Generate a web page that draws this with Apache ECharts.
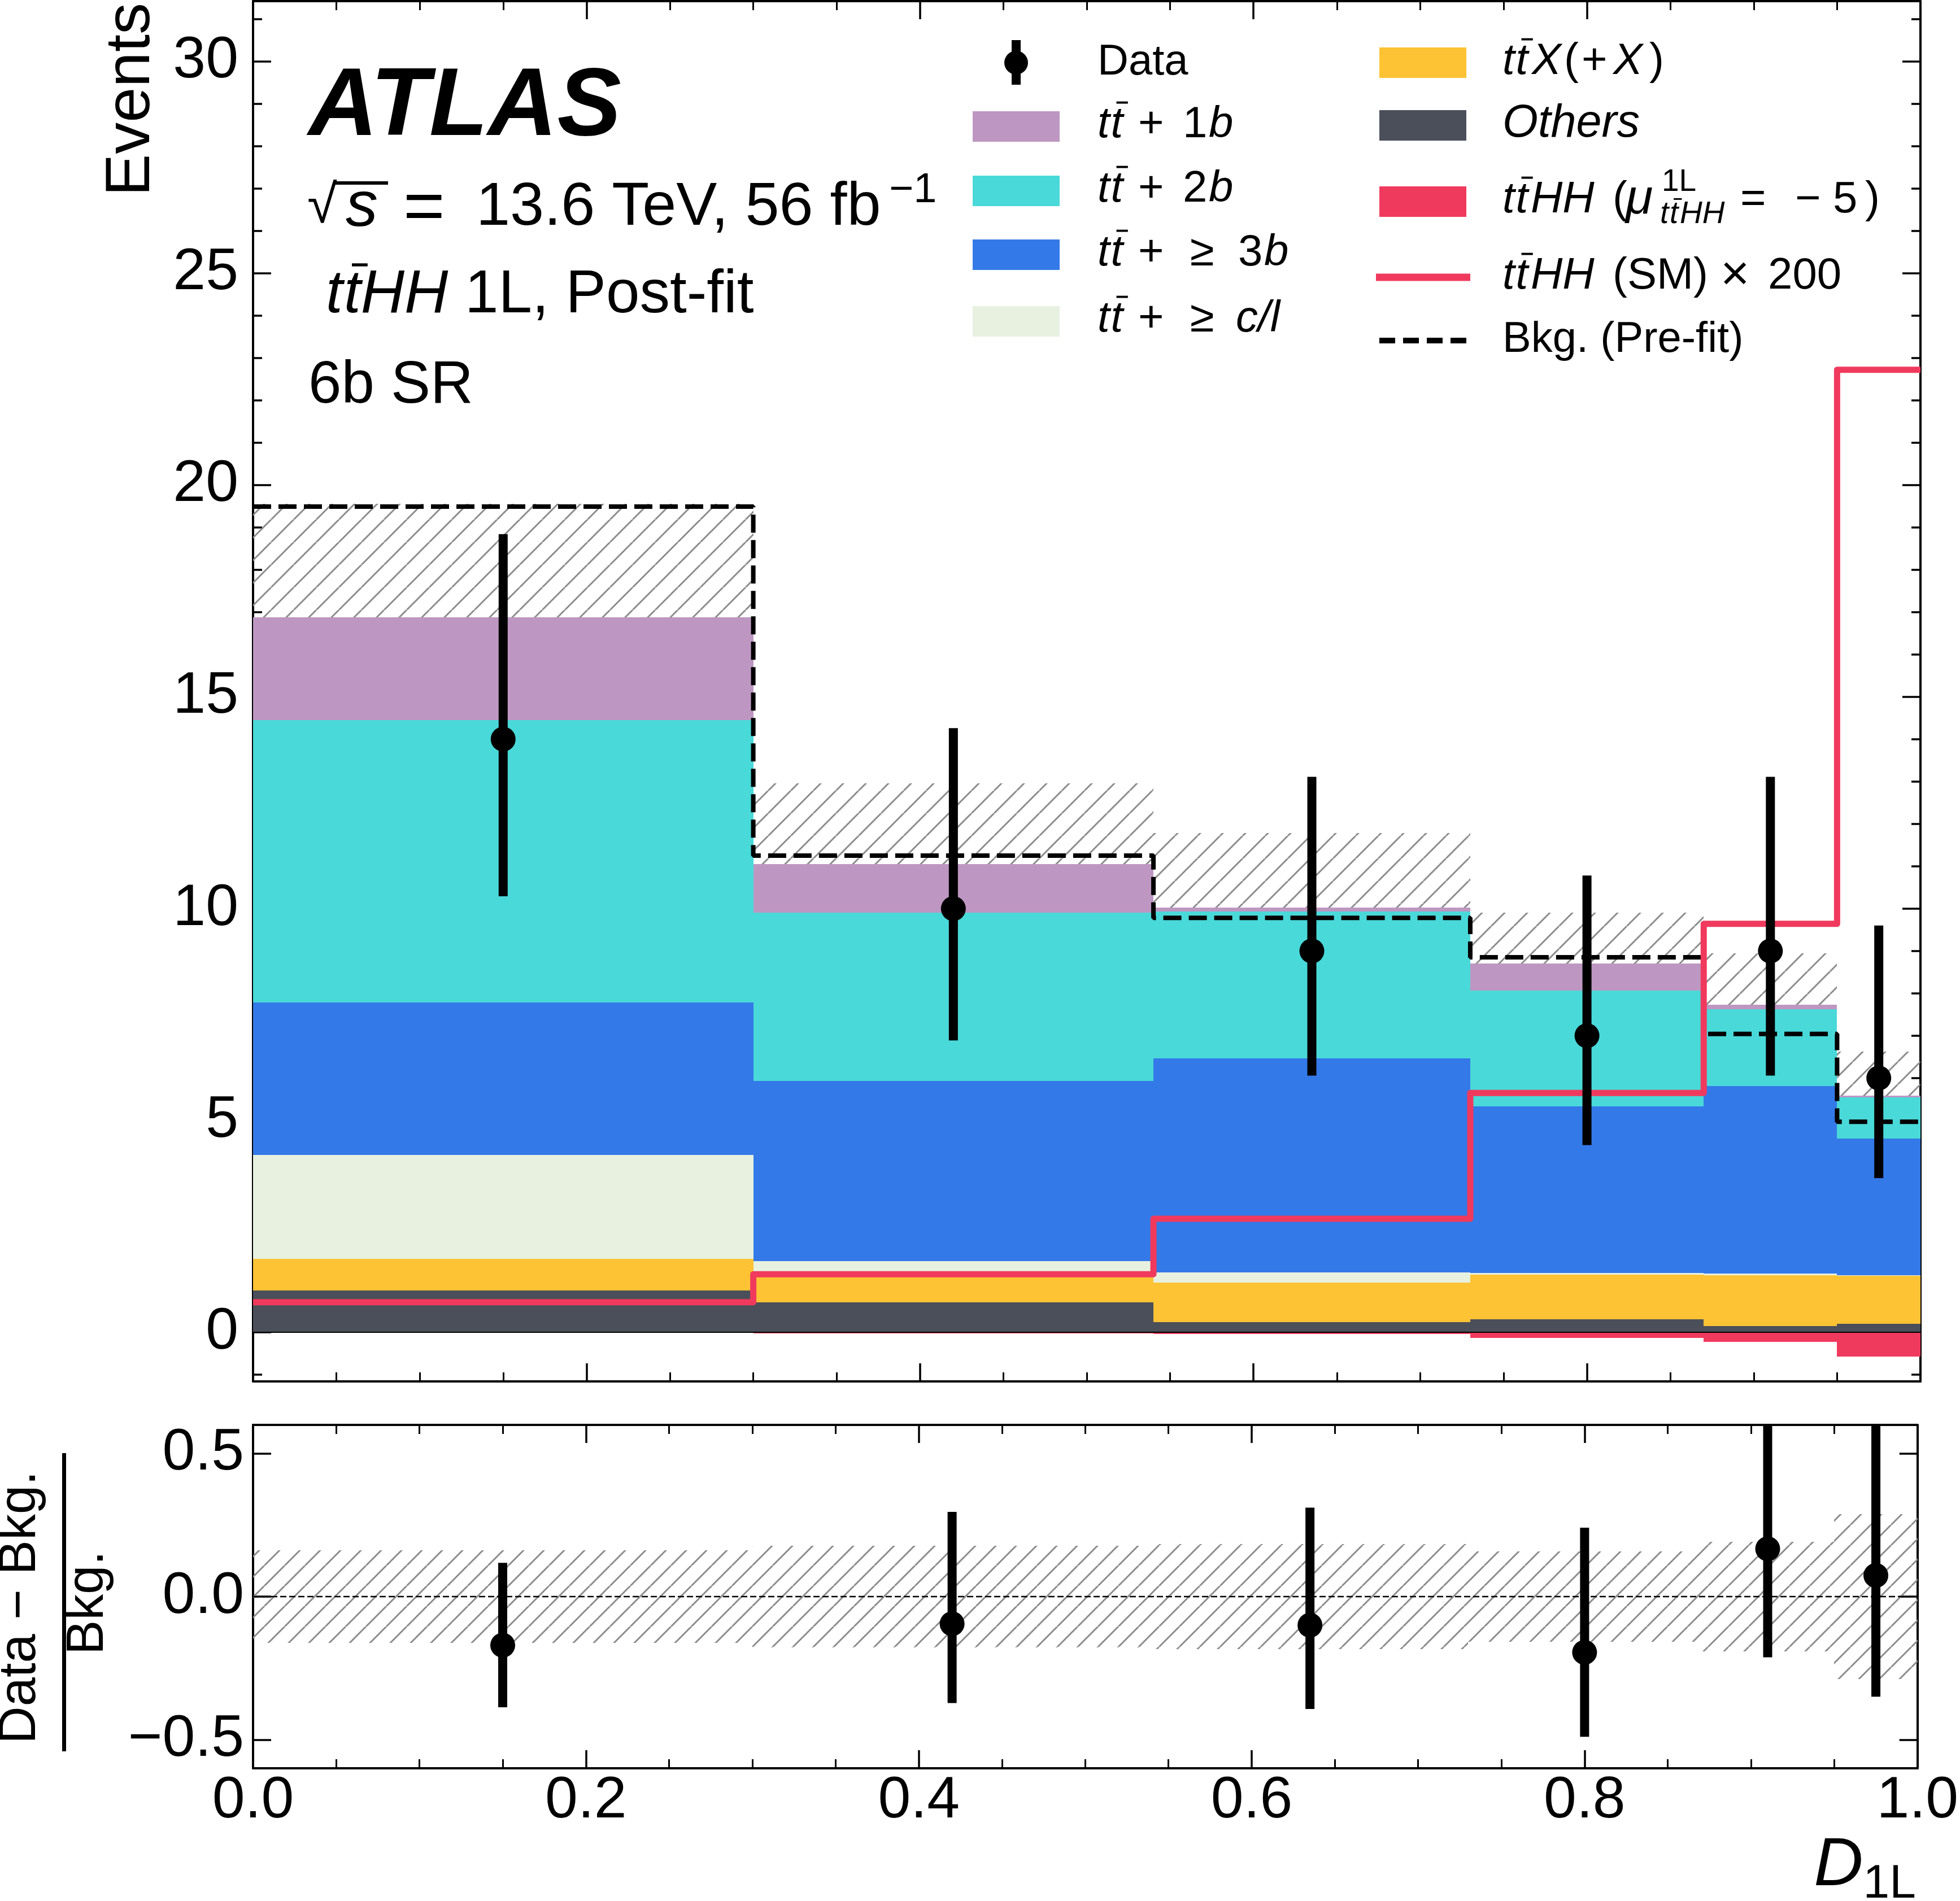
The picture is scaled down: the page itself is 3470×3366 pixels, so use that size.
<!DOCTYPE html>
<html>
<head>
<meta charset="utf-8">
<script src="https://cdn.jsdelivr.net/npm/echarts@6.0.0/dist/echarts.min.js"></script>
<style>
html, body { margin: 0; padding: 0; background: #fff; }
#chart { width: 3470px; height: 3366px; }
</style>
</head>
<body>
<div id="chart"></div>
<script>
// bin edges of D_1L
var binEdges = [0, 0.3, 0.54, 0.73, 0.87, 0.95, 1.0];

// post-fit yields per bin, stack order bottom -> top
var others = [0.98, 0.70, 0.24, 0.31, 0.14, 0.20];
var ttX    = [0.75, 0.60, 0.93, 1.05, 1.21, 1.13];
var ttCL   = [2.45, 0.38, 0.24, 0.04, 0.04, 0.01];
var tt3b   = [3.61, 4.25, 5.05, 3.93, 4.42, 3.23];
var tt2b   = [6.66, 3.98, 3.47, 2.74, 1.81, 0.97];
var tt1b   = [2.42, 1.14, 0.10, 0.63, 0.11, 0.05];
var ttHHfit = [-0.01, -0.03, -0.04, -0.13, -0.23, -0.57];   // mu = -5
var bkgErr  = [2.68, 1.91, 1.76, 1.21, 1.22, 1.03];
var preFit  = [19.49, 11.25, 9.78, 8.85, 7.04, 4.97];
var ttHHsm200 = [0.71, 1.37, 2.68, 5.65, 9.64, 22.72];

// data
var dataX  = [0.15, 0.42, 0.635, 0.8, 0.91, 0.975];
var dataY  = [14, 10, 9, 7, 9, 6];
var dataLo = [10.29, 6.89, 6.06, 4.42, 6.06, 3.64];
var dataHi = [18.84, 14.26, 13.11, 10.78, 13.11, 9.60];

// ratio panel
var ratioY   = [-0.170, -0.095, -0.100, -0.195, 0.167, 0.074];
var ratioLo  = [-0.387, -0.372, -0.393, -0.490, -0.212, -0.350];
var ratioHi  = [0.118, 0.296, 0.311, 0.241, 0.70, 0.72];
var ratioErr = [0.161, 0.178, 0.184, 0.157, 0.192, 0.288];

var FONT = '"Liberation Sans", Arial, sans-serif';
var FNAME = 'Liberation Sans';

var chart = echarts.init(document.getElementById('chart'));

// hatch tile
function hatch(step, lw, color) {
	var c = document.createElement('canvas');
	c.width = step; c.height = step;
	var g = c.getContext('2d');
	g.strokeStyle = color;
	g.lineWidth = lw;
	g.beginPath();
	for (var k = -1; k <= 1; k++) {
		g.moveTo(k * step, step);
		g.lineTo(k * step + step, 0);
	}
	g.stroke();
	return c;
}
var hatchMain = hatch(40, 3, '#8c8c8c');
var hatchRatio = hatch(36, 3, '#8c8c8c');

// stack
var stackDefs = [
	{ vals: others, color: '#4b4f5a' },
	{ vals: ttX, color: '#fdc334' },
	{ vals: ttCL, color: '#e8f1e0' },
	{ vals: tt3b, color: '#3479e8' },
	{ vals: tt2b, color: '#4ad9d9' },
	{ vals: tt1b, color: '#bd97c1' }
];
var base = [0, 0, 0, 0, 0, 0];
stackDefs.forEach(function(def) {
	def.data = def.vals.map(function(v, i) {
		var lo = base[i];
		base[i] += v;
		return [binEdges[i], binEdges[i + 1], lo, base[i]];
	});
});
var total = base.slice();

function rectItem(fill) {
	return function(params, api) {
		var a = api.coord([api.value(0), api.value(3)]);
		var b = api.coord([api.value(1), api.value(2)]);
		var x0 = Math.round(a[0]), x1 = Math.round(b[0]);
		var y0 = Math.round(a[1]), y1 = Math.round(b[1]);
		return {
			type: 'rect',
			shape: { x: x0, y: y0, width: x1 - x0, height: y1 - y0 },
			style: { fill: fill }
		};
	};
}

function errItem(lw) {
	return function(params, api) {
		var t = api.coord([api.value(0), api.value(2)]);
		var b = api.coord([api.value(0), api.value(1)]);
		var cs = params.coordSys;
		return {
			type: 'line',
			shape: { x1: t[0], y1: Math.max(t[1], cs.y), x2: t[0], y2: Math.min(b[1], cs.y + cs.height) },
			style: { stroke: '#000', lineWidth: lw }
		};
	};
}

function stepData(vals) {
	var out = [];
	vals.forEach(function(v, i) {
		out.push([binEdges[i], v]);
		out.push([binEdges[i + 1], v]);
	});
	return out;
}

var series = [];
// uncertainty band (main)
series.push({
	type: 'custom', xAxisIndex: 0, yAxisIndex: 0, z: 1,
	renderItem: rectItem({ image: hatchMain, repeat: 'repeat' }),
	encode: { x: [0, 1], y: [2, 3] },
	data: total.map(function(t, i) { return [binEdges[i], binEdges[i + 1], t - bkgErr[i], t + bkgErr[i]]; })
});
stackDefs.forEach(function(def) {
	series.push({
		type: 'custom', xAxisIndex: 0, yAxisIndex: 0, z: 2,
		renderItem: rectItem(def.color),
		encode: { x: [0, 1], y: [2, 3] },
		data: def.data
	});
});
// ttHH post-fit (negative)
series.push({
	type: 'custom', xAxisIndex: 0, yAxisIndex: 0, z: 3,
	renderItem: rectItem('#f03a5d'),
	encode: { x: [0, 1], y: [2, 3] },
	data: ttHHfit.map(function(v, i) { return [binEdges[i], binEdges[i + 1], v, 0]; })
});
series.push({
	type: 'line', xAxisIndex: 0, yAxisIndex: 0, z: 4, symbol: 'none',
	lineStyle: { color: '#000', width: 2 },
	data: [[0, 0], [1, 0]]
});
series.push({
	type: 'line', xAxisIndex: 0, yAxisIndex: 0, z: 5, symbol: 'none',
	lineStyle: { color: '#000', width: 8, type: [32, 13] },
	data: stepData(preFit)
});
series.push({
	type: 'line', xAxisIndex: 0, yAxisIndex: 0, z: 6, symbol: 'none',
	lineStyle: { color: '#f03a5d', width: 11, join: 'round' },
	data: stepData(ttHHsm200)
});
series.push({
	type: 'custom', xAxisIndex: 0, yAxisIndex: 0, z: 8,
	renderItem: errItem(16),
	encode: { x: 0, y: [1, 2] },
	data: dataX.map(function(x, i) { return [x, dataLo[i], dataHi[i]]; })
});
series.push({
	type: 'scatter', xAxisIndex: 0, yAxisIndex: 0, z: 9,
	symbol: 'circle', symbolSize: 44, itemStyle: { color: '#000', opacity: 1 },
	data: dataX.map(function(x, i) { return [x, dataY[i]]; })
});

// ratio panel
series.push({
	type: 'custom', xAxisIndex: 2, yAxisIndex: 4, z: 1,
	renderItem: rectItem({ image: hatchRatio, repeat: 'repeat' }),
	encode: { x: [0, 1], y: [2, 3] },
	data: ratioErr.map(function(e, i) { return [binEdges[i], binEdges[i + 1], -e, e]; })
});
series.push({
	type: 'line', xAxisIndex: 2, yAxisIndex: 4, z: 4, symbol: 'none',
	lineStyle: { color: '#000', width: 2.5, type: [11, 5] },
	data: [[0, 0], [1, 0]]
});
series.push({
	type: 'custom', xAxisIndex: 2, yAxisIndex: 4, z: 8,
	renderItem: errItem(16),
	encode: { x: 0, y: [1, 2] },
	data: dataX.map(function(x, i) { return [x, ratioLo[i], ratioHi[i]]; })
});
series.push({
	type: 'scatter', xAxisIndex: 2, yAxisIndex: 4, z: 9,
	symbol: 'circle', symbolSize: 44, itemStyle: { color: '#000', opacity: 1 },
	data: dataX.map(function(x, i) { return [x, ratioY[i]]; })
});

// axes
function xAx(grid, pos, showLabel) {
	return {
		type: 'value', gridIndex: grid, position: pos, min: 0, max: 1, interval: 0.2,
		axisLine: { show: true, onZero: false, lineStyle: { color: '#000', width: 4 } },
		axisTick: { show: true, inside: true, length: 32, lineStyle: { color: '#000', width: 3.5 } },
		minorTick: { show: true, splitNumber: 4, length: 16, lineStyle: { color: '#000', width: 3 } },
		axisLabel: { show: showLabel, margin: 6, fontSize: 104, fontFamily: FNAME, color: '#000',
			formatter: function(v) { return v.toFixed(1); } },
		splitLine: { show: false }, minorSplitLine: { show: false }
	};
}
function yAx(grid, pos, min, max, step, len, showLabel, showLine, fmt, margin) {
	return {
		type: 'value', gridIndex: grid, position: pos, min: min, max: max,
		minInterval: step, maxInterval: step, splitNumber: Math.round((max - min) / step),
		axisLine: { show: showLine, onZero: false, lineStyle: { color: '#000', width: 4 } },
		axisTick: { show: true, inside: true, length: len, lineStyle: { color: '#000', width: 3.5 } },
		axisLabel: { show: showLabel, margin: margin, fontSize: 104, fontFamily: FNAME, color: '#000',
			showMinLabel: false, showMaxLabel: false, formatter: fmt },
		splitLine: { show: false }
	};
}
var fmtMain = function(v) { return String(v); };
var fmtRatio = function(v) { return v.toFixed(1).replace('-', '\u2212'); };
var YMIN = -1.16, YMAX = 31.42;

// text helper: parts laid out left to right, part.x forces an absolute position
var mctx = document.createElement('canvas').getContext('2d');
function fontStr(it, bold, fs) {
	return (it ? 'italic ' : '') + (bold ? 'bold ' : '') + fs + 'px ' + FONT;
}
var texts = [];
function textRow(x, yc, fs, parts) {
	var cx = x, pos = [];
	parts.forEach(function(p) {
		var f = p.fs || fs;
		var font = fontStr(p.it, p.bold, f);
		mctx.font = font;
		var w = mctx.measureText(p.t).width;
		if (p.x != null) cx = p.x;
		var yy = yc + (p.dy || 0);
		texts.push({ type: 'text', x: cx, y: yy, z: 100,
			style: { text: p.t, font: font, fill: '#000', textAlign: 'left', textVerticalAlign: 'middle' } });
		if (p.bar) {
			texts.push({ type: 'rect', z: 100,
				shape: { x: cx + 0.13 * f, y: yy - 0.53 * f, width: 0.26 * f, height: Math.max(3, 0.05 * f) },
				style: { fill: '#000' } });
		}
		pos.push([cx, w]);
		if (!p.hold) cx += w;
	});
	return pos;
}
function tt(x0, fs) {
	var f = fs || 78;
	return [{ t: 't', it: true, fs: f, x: x0 }, { t: 't', it: true, bar: true, fs: f, x: x0 + 0.3 * f }];
}

// top-left labels
textRow(546, 192, 170, [{ t: 'ATLAS', it: true, bold: true }]);
textRow(546, 368, 105, [
	{ t: '\u221a', fs: 96, x: 544 },
	{ t: 's', it: true, fs: 114, x: 612 },
	{ t: '=', fs: 126, x: 714, dy: 4 },
	{ t: '13.6 TeV, 56 fb', fs: 108, x: 843 },
	{ t: '\u22121', fs: 74, dy: -30, x: 1574 }
]);
texts.push({ type: 'rect', z: 100, shape: { x: 592, y: 321, width: 95, height: 6 }, style: { fill: '#000' } });
textRow(577, 523, 107, tt(577, 107).concat([{ t: 'HH', it: true }, { t: ' 1L, Post-fit' }]));
textRow(546, 684, 105, [{ t: '6b SR' }]);

// legend
var c1h = 1722, c1t = 1943, c2h = 2442, c2t = 2660;
var legendEls = [];
legendEls.push({ type: 'line', z: 100, shape: { x1: 1799, y1: 71, x2: 1799, y2: 150 }, style: { stroke: '#000', lineWidth: 16 } });
legendEls.push({ type: 'circle', z: 100, shape: { cx: 1799, cy: 111, r: 21 }, style: { fill: '#000' } });
function box(x, yc, color) {
	legendEls.push({ type: 'rect', z: 100, shape: { x: x, y: yc - 27, width: 154, height: 54 }, style: { fill: color } });
}
textRow(c1t, 111, 76, [{ t: 'Data' }]);
box(c1h, 224, '#bd97c1');
textRow(c1t, 221, 78, tt(c1t).concat([{ t: '+', x: 2015 }, { t: '1', x: 2094 }, { t: 'b', it: true, x: 2140 }]));
box(c1h, 338, '#4ad9d9');
textRow(c1t, 335, 78, tt(c1t).concat([{ t: '+', x: 2015 }, { t: '2', x: 2094 }, { t: 'b', it: true, x: 2140 }]));
box(c1h, 451, '#3479e8');
textRow(c1t, 448, 78, tt(c1t).concat([{ t: '+', x: 2015 }, { t: '\u2265', x: 2107 }, { t: '3', x: 2192 }, { t: 'b', it: true, x: 2238 }]));
box(c1h, 569, '#e8f1e0');
textRow(c1t, 565, 78, tt(c1t).concat([{ t: '+', x: 2015 }, { t: '\u2265', x: 2107 }, { t: 'c/l', it: true, x: 2188 }]));

box(c2h, 111, '#fdc334');
textRow(c2t, 109, 78, tt(c2t).concat([{ t: 'X', it: true, x: 2712 }, { t: '(', x: 2769 }, { t: '+', x: 2800 },
	{ t: 'X', it: true, x: 2856 }, { t: ')', x: 2920 }]));
box(c2h, 222, '#4b4f5a');
textRow(c2t, 219, 81, [{ t: 'Others', it: true }]);
box(c2h, 357, '#f03a5d');
textRow(c2t, 354, 78, tt(c2t).concat([{ t: 'HH', it: true, x: 2710 }, { t: '(', x: 2855 }, { t: '\u03bc', it: true, fs: 88, x: 2878 },
	{ t: '1L', fs: 55, dy: -31, x: 2942, hold: true },
	{ t: 't', it: true, fs: 55, dy: 26, x: 2939 }, { t: 't', it: true, bar: true, fs: 55, dy: 26, x: 2956 },
	{ t: 'HH', it: true, fs: 55, dy: 26, x: 2974 },
	{ t: '=', x: 3081 }, { t: '\u2212', x: 3178 }, { t: '5', x: 3245 }, { t: ')', x: 3302 }]));
legendEls.push({ type: 'line', z: 100, shape: { x1: 2436, y1: 491, x2: 2603, y2: 491 }, style: { stroke: '#f03a5d', lineWidth: 13 } });
textRow(c2t, 489, 78, tt(c2t).concat([{ t: 'HH', it: true, x: 2710 }, { t: '(SM)', x: 2855 }, { t: '\u00d7', fs: 88, x: 3046 }, { t: '200', x: 3130 }]));
legendEls.push({ type: 'line', z: 100, shape: { x1: 2442, y1: 603, x2: 2596, y2: 603 }, style: { stroke: '#000', lineWidth: 10, lineDash: [28, 14] } });
textRow(c2t, 602, 76, [{ t: 'Bkg. (Pre-fit)' }]);

// axis titles
texts.push({ type: 'text', x: 233, y: 5, rotation: Math.PI / 2, z: 100,
	style: { text: 'Events', font: fontStr(false, false, 112), fill: '#000', textAlign: 'right', textVerticalAlign: 'middle' } });
texts.push({ type: 'text', x: 37, y: 2846, rotation: Math.PI / 2, z: 100,
	style: { text: 'Data \u2212 Bkg.', font: fontStr(false, false, 92), fill: '#000', textAlign: 'center', textVerticalAlign: 'middle' } });
texts.push({ type: 'text', x: 157, y: 2838, rotation: Math.PI / 2, z: 100,
	style: { text: 'Bkg.', font: fontStr(false, false, 92), fill: '#000', textAlign: 'center', textVerticalAlign: 'middle' } });
texts.push({ type: 'rect', z: 100, shape: { x: 110, y: 2573, width: 7, height: 528 }, style: { fill: '#000' } });
mctx.font = fontStr(true, false, 121);
var wD = mctx.measureText('D').width;
mctx.font = fontStr(false, false, 84);
var w1L = mctx.measureText('1L').width;
textRow(3396 - wD - w1L - 4, 3304, 121, [{ t: 'D', it: true }, { t: '1L', fs: 84, dy: 33 }]);

var option = {
	animation: false,
	backgroundColor: '#fff',
	textStyle: { fontFamily: FNAME },
	grid: [
		{ left: 448, top: 2, width: 2952, height: 2444 },
		{ left: 448, top: 2523, width: 2952, height: 608 }
	],
	xAxis: [
		xAx(0, 'bottom', false),
		xAx(0, 'top', false),
		xAx(1, 'bottom', true),
		xAx(1, 'top', false)
	],
	yAxis: [
		yAx(0, 'left', YMIN, YMAX, 5, 32, true, true, fmtMain, 26),
		yAx(0, 'left', YMIN, YMAX, 1, 16, false, false, fmtMain, 26),
		yAx(0, 'right', YMIN, YMAX, 5, 32, false, true, fmtMain, 26),
		yAx(0, 'right', YMIN, YMAX, 1, 16, false, false, fmtMain, 26),
		yAx(1, 'left', -0.6, 0.6, 0.5, 32, true, true, fmtRatio, 16),
		yAx(1, 'right', -0.6, 0.6, 0.5, 32, false, true, fmtRatio, 16)
	],
	graphic: { elements: legendEls.concat(texts) },
	series: series
};
chart.setOption(option);
</script>
</body>
</html>
